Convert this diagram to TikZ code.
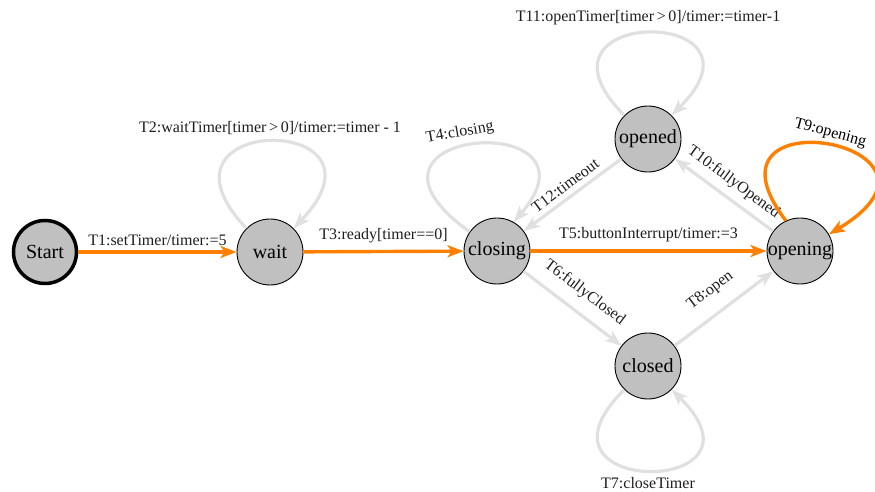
\documentclass[tikz,border=0pt]{standalone}
\usepackage{fontspec}
\setmainfont{Liberation Serif}
\usetikzlibrary{arrows.meta}
\definecolor{hotline}{RGB}{255,128,0}
\definecolor{idleline}{RGB}{224,224,224}
\definecolor{statefill}{RGB}{192,192,192}
\definecolor{labeltext}{RGB}{30,30,30}

\begin{document}
\begin{tikzpicture}[x=1pt,y=1pt,>={Stealth[length=16pt,width=12pt,inset=4pt]},
    statenode/.style={circle,draw=black,line width=0.9pt,fill=statefill,
      minimum size=66pt,inner sep=-2pt,font=\fontsize{20}{24}\selectfont},
    hot/.style={->,draw=hotline,line width=3.4pt},
    idle/.style={->,draw=idleline,line width=3.2pt},
    lbl/.style={text=labeltext,font=\fontsize{16}{19}\selectfont,inner sep=2pt}]
  \useasboundingbox (0,0) rectangle (875,492);

  % states
  \node[statenode,line width=3.5pt,minimum size=63pt] (start) at (45,240) {Start};
  \node[statenode] (wait) at (270,240) {wait};
  \node[statenode] (closing) at (497,241) {closing};
  \node[statenode] (opened) at (648,353) {opened};
  \node[statenode] (opening) at (800,241) {opening};
  \node[statenode] (closed) at (648,126) {closed};

  % grey transitions
  \draw[idle] (wait.135) .. controls +(-110,116) and +(110,116) .. node[lbl,above=3pt] (t2) {T2:waitTimer[timer\,>\,0]/timer:=timer - 1} (wait.45);
  \draw[idle] (closing.145) .. controls +(-146,105) and +(99,115) .. node[lbl,pos=0.45,above=3pt,rotate=10] (t4) {T4:closing} (closing.60);
  \draw[idle] (opened.135) .. controls +(-110,110) and +(110,110) .. node[lbl,above=4pt] (t11) {T11:openTimer[timer\,>\,0]/timer:=timer-1} (opened.45);
  \draw[idle] (closed.225) .. controls +(-110,-108) and +(110,-108) .. node[lbl,below=3pt] (t7) {T7:closeTimer} (closed.315);
  \draw[idle] (opened) -- node[lbl,sloped,above=3pt] (t12) {T12:timeout} (closing);
  \draw[idle] (opening) -- node[lbl,sloped,above=5pt] (t10) {T10:fullyOpened} (opened);
  \draw[idle] (closing) -- node[lbl,sloped,above=9pt] (t6) {T6:fullyClosed} (closed);
  \draw[idle] (closed) -- node[lbl,sloped,above=12pt] (t8) {T8:open} (opening);

  % orange transitions
  \draw[hot] (start) -- node[lbl,above=3pt] (t1) {T1:setTimer/timer:=5} (wait);
  \draw[hot] (wait) -- node[lbl,above=5pt] (t3) {T3:ready[timer==0]} (closing);
  \draw[hot] (closing) -- node[lbl,above=5pt] (t5) {T5:buttonInterrupt/timer:=3} (opening);
  \draw[hot] (opening.115) .. controls +(-99,130) and +(152,91) .. node[lbl,text=black,above=1pt,rotate=-15] (t9) {T9:opening} (opening.30);
\end{tikzpicture}
\end{document}
